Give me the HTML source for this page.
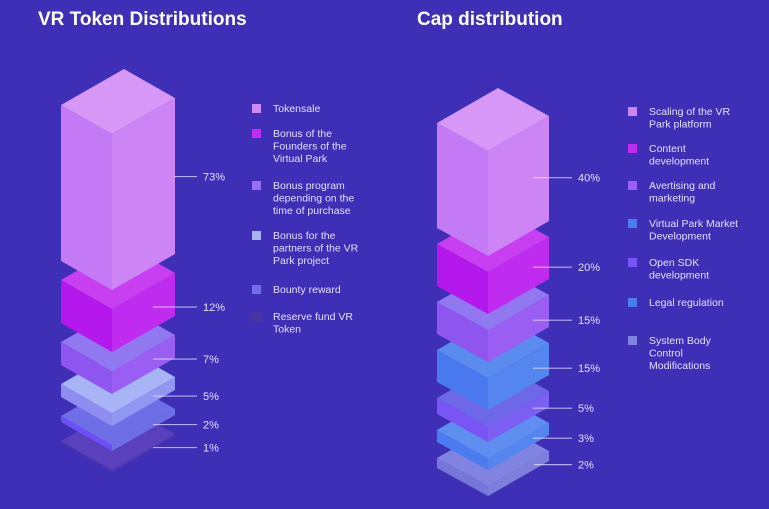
<!DOCTYPE html>
<html><head><meta charset="utf-8"><style>
body{margin:0;background:#3f2fb6;width:769px;height:509px;overflow:hidden;font-family:"Liberation Sans",sans-serif}
svg{position:absolute;left:0;top:0}
</style></head><body>
<svg id="c" width="769" height="509">
<text x="38" y="25" fill="#fff" font-size="19" font-weight="bold">VR Token Distributions</text>
<text x="417" y="25" fill="#fff" font-size="19" font-weight="bold">Cap distribution</text>
</svg>
<script>
// Left chart data
const leftValues=[73,12,7,5,2,1];
const leftLabels=["73%","12%","7%","5%","2%","1%"];
const leftLegend=[["Tokensale"],["Bonus of the","Founders of the","Virtual Park"],["Bonus program","depending on  the","time of purchase"],["Bonus for the","partners of the VR","Park project"],["Bounty reward"],["Reserve fund VR","Token"]];
// Right chart data
const rightValues=[40,20,15,15,5,3,2];
const rightLabels=["40%","20%","15%","15%","5%","3%","2%"];
const rightLegend=[["Scaling of the VR","Park platform"],["Content","development"],["Avertising and","marketing"],["Virtual Park Market","Development"],["Open SDK","development"],["Legal regulation"],["System Body","Control","Modifications"]];

const leftColors=[["#c57af5","#cd85f5","#d697f7"],["#b418ec","#bf2cf0","#c73ff0"],["#8f55ef","#9a5ef2","#8f78f0"],["#8f8cf2","#9196f2","#a8b4f5"],["#6d4ff5","#6e6ee8","#6e6fe6"],["#4a35a8","#4f38b0","#5a40bd"]];
const leftLegendCol=["#d08af7","#c02cf0","#9a6ef2","#a8b4f5","#6e6ee8","#4a35a0"];
const rightColors=[["#c57af5","#cd85f5","#d697f7"],["#b418ec","#bf2cf0","#c73ff0"],["#8f55ef","#9a5ef2","#8f78f0"],["#4a78ee","#5585ef","#5a8cf0"],["#7a55f5","#7a5ff2","#6e67e8"],["#4a7cf0","#5585ef","#5f8ef0"],["#7576d8","#7d7fdd","#8083e0"]];
const rightLegendCol=["#cc85f5","#bf2cf0","#9a5ef2","#4a7cf0","#7a55f5","#4a7cf0","#8083e0"];

const svg=document.getElementById('c');
const NS="http://www.w3.org/2000/svg";
function poly(d){return d.map(p=>p.join(',')).join(' ');}
function piece(dom,rng){return v=>{for(let i=1;i<dom.length;i++){if(v<=dom[i]||i==dom.length-1){const t=(v-dom[i-1])/(dom[i]-dom[i-1]);return rng[i-1]+t*(rng[i]-rng[i-1]);}}};}

function drawStack(cfg){
  let top=cfg.top;
  const blocks=cfg.values.map(v=>{const h=Math.max(2,cfg.scale(v));const b={ft:top,fb:top+h};top=b.fb+cfg.gap;return b;});
  const fx=cfg.fx,lx=cfg.lx,rx=cfg.rx,ld=cfg.ld,rd=cfg.rd;
  const bx=lx+rx-fx;
  for(let i=blocks.length-1;i>=0;i--){
    const ft=blocks[i].ft,fb=blocks[i].fb;
    const g=document.createElementNS(NS,'g');
    
    
    const faces=[
      [[lx,ft+ld],[fx,ft],[fx,fb],[lx,fb+ld]],
      [[fx,ft],[rx,ft+rd],[rx,fb+rd],[fx,fb]],
      [[lx,ft+ld],[bx,ft+ld+rd],[rx,ft+rd],[fx,ft]]
    ];
    faces.forEach((f,k)=>{const p=document.createElementNS(NS,'polygon');p.setAttribute('points',poly(f));p.setAttribute('fill',cfg.colors[i][k]);g.appendChild(p);});
    svg.appendChild(g);
  }
  blocks.forEach((b,i)=>{
    const ly=(b.ft+b.fb)/2+rd*(cfg.lineX[i]-fx)/(rx-fx);
    const ln=document.createElementNS(NS,'line');
    ln.setAttribute('x1',cfg.lineX[i]);ln.setAttribute('x2',cfg.lineEnd);ln.setAttribute('y1',ly);ln.setAttribute('y2',ly);
    ln.setAttribute('stroke','rgba(235,230,255,0.7)');ln.setAttribute('stroke-width','1.2');
    
    
    svg.appendChild(ln);
    const t=document.createElementNS(NS,'text');
    t.setAttribute('x',cfg.lineEnd+6);t.setAttribute('y',ly+4);t.setAttribute('fill','#e4deff');t.setAttribute('font-size','11');
    t.textContent=cfg.labels[i];
    
    
    svg.appendChild(t);
  });
}
function drawLegend(cfg){
  cfg.items.forEach((lines,i)=>{
    const y=cfg.ys[i];
    const r=document.createElementNS(NS,'rect');
    r.setAttribute('x',cfg.x);r.setAttribute('y',y-8);r.setAttribute('width',9);r.setAttribute('height',9);r.setAttribute('fill',cfg.colors[i]);
    
    
    svg.appendChild(r);
    const t=document.createElementNS(NS,'text');
    t.setAttribute('fill','#e4deff');t.setAttribute('font-size','10.5');
    
    
    lines.forEach((s,k)=>{const sp=document.createElementNS(NS,'tspan');sp.setAttribute('x',cfg.x+21);sp.setAttribute('y',y+k*12.5);sp.textContent=s;t.appendChild(sp);});
    svg.appendChild(t);
  });
}
drawStack({name:'left',values:leftValues,labels:leftLabels,colors:leftColors,
  scale:piece([0,1,2,5,7,12,73],[0,2,6,13,23,43,156]),
  top:134,gap:19,fx:112,lx:61,rx:175,ld:-29,rd:-36,lineX:[174,153,153,153,153,153],lineEnd:197});
drawStack({name:'right',values:rightValues,labels:rightLabels,colors:rightColors,
  scale:piece([0,2,3,5,15,20,40],[0,10,12,16,32,42,105]),
  top:151,gap:16,fx:488,lx:437,rx:549,ld:-28,rd:-35,lineX:[533,533,533,533,533,533,534],lineEnd:572});
drawLegend({name:'left',items:leftLegend,colors:leftLegendCol,x:252,ys:[112,137,189,239,293,320]});
drawLegend({name:'right',items:rightLegend,colors:rightLegendCol,x:628,ys:[115,152,189,227,266,306,344]});
</script>
</body></html>
